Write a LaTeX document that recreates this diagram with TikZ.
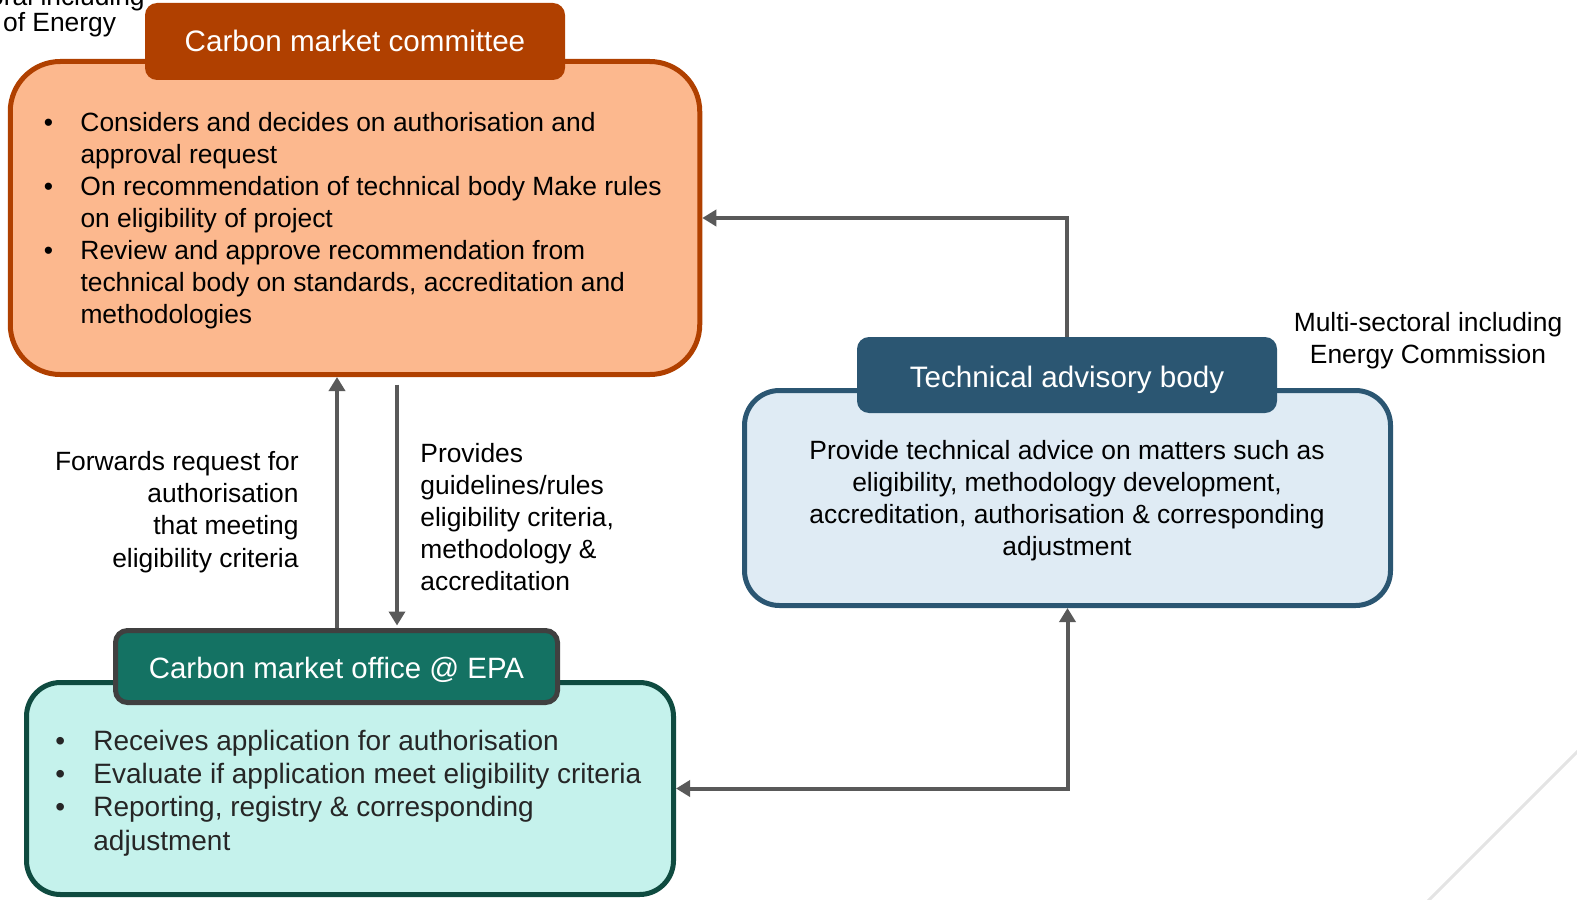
\documentclass[tikz,border=0pt]{standalone}
\usepackage{fontspec}
\setmainfont{Liberation Sans}
\usetikzlibrary{arrows.meta,positioning}
\definecolor{cmcdark}{RGB}{176,64,0}
\definecolor{cmclight}{RGB}{252,184,142}
\definecolor{tabdark}{RGB}{43,86,114}
\definecolor{tablight}{RGB}{223,235,244}
\definecolor{cmodark}{RGB}{20,114,99}
\definecolor{cmoline}{RGB}{15,75,64}
\definecolor{cmolight}{RGB}{197,242,236}
\definecolor{arrgray}{RGB}{89,89,89}
\definecolor{diaggray}{RGB}{228,228,228}
\newcommand{\bul}[1]{\makebox[#1][l]{\textbullet}}
\tikzset{
  mainbox/.style={draw,line width=2.5pt,inner sep=0pt},
  headbox/.style={text=white,inner sep=0pt,rounded corners=6pt,text depth=0pt,font=\fontsize{14.8}{17}\selectfont},
  bodytxt/.style={inner sep=0pt,font=\fontsize{13.2}{16}\selectfont},
  conn/.style={draw=arrgray,line width=2pt},
}
\begin{document}
\begin{tikzpicture}[>={Triangle[length=7pt,width=8pt]},x=0.5pt,y=-0.5pt]
\useasboundingbox (0,0) rectangle (1577,899);
\clip (0,0) rectangle (1577,899);
\draw[diaggray,line width=1.5pt] (1420,909) -- (1587,742);
% committee
\node[mainbox,draw=cmcdark,fill=cmclight,minimum width=344.75pt,minimum height=156.5pt,rounded corners=25pt] (cmc) at (355,218) {};
\node[headbox,fill=cmcdark,minimum width=210pt,minimum height=38.5pt,text height=10.5pt] (cmch) at (355,41.5) {Carbon market committee};
\node[bodytxt,align=left,anchor=base west] (cmcl) at (43.5,323) {\bul{18.3pt}Considers and decides on authorisation and\\
  \hspace*{18.3pt}approval request\\
  \bul{18.3pt}On recommendation of technical body Make rules\\
  \hspace*{18.3pt}on eligibility of project\\
  \bul{18.3pt}Review and approve recommendation from\\
  \hspace*{18.3pt}technical body on standards, accreditation and\\
  \hspace*{18.3pt}methodologies};
% technical advisory body
\node[mainbox,draw=tabdark,fill=tablight,minimum width=323pt,minimum height=107.5pt,rounded corners=17.5pt] (tab) at (1067.5,498) {};
\node[headbox,fill=tabdark,minimum width=210pt,minimum height=38pt,text height=12pt] (tabh) at (1067,375) {Technical advisory body};
\node[bodytxt,align=center,anchor=base] (tabl) at (1067,555) {Provide technical advice on matters such as\\
  eligibility, methodology development,\\
  accreditation, authorisation \& corresponding\\
  adjustment};
% carbon market office
\node[mainbox,draw=cmoline,fill=cmolight,minimum width=323.5pt,minimum height=106pt,rounded corners=17pt] (cmo) at (350,788.5) {};
\node[headbox,draw=black!75,line width=2.5pt,fill=cmodark,minimum width=221pt,minimum height=36pt,text height=11.5pt,font=\fontsize{14.7}{17}\selectfont] (cmoh) at (336.5,666.5) {Carbon market office @ EPA};
\node[bodytxt,align=left,anchor=base west,text=black!85,font=\fontsize{14}{16.6}\selectfont] (cmol) at (55,850) {\bul{19pt}Receives application for authorisation\\
  \bul{19pt}Evaluate if application meet eligibility criteria\\
  \bul{19pt}Reporting, registry \& corresponding\\
  \hspace*{19pt}adjustment};
% side labels
\node[bodytxt,align=right,anchor=base east,font=\fontsize{13.2}{16.15}\selectfont] (fwd) at (299,567) {Forwards request for\\authorisation\\that meeting\\eligibility criteria};
\node[bodytxt,align=left,anchor=base west] (prov) at (420,590) {Provides\\guidelines/rules\\eligibility criteria,\\methodology \&\\accreditation};
\node[bodytxt,align=center,anchor=base] (ecom) at (1428,363) {Multi-sectoral including\\Energy Commission};
\node[bodytxt,align=center,anchor=base,font=\fontsize{13.2}{13}\selectfont] (moe) at (10.5,32) {Multi-sectoral including\\Ministry of Energy};
% connectors
\draw[conn,->] (tabh.north) |- (cmc.east);
\draw[conn,->] ([xshift=0.25pt]cmoh.north) -- ([xshift=0.25pt]cmoh.north |- cmc.south);
\draw[conn,->,shorten <=3.75pt,shorten >=1.25pt] ([xshift=30.25pt]cmoh.north |- cmc.south) -- ([xshift=30.25pt]cmoh.north);
\draw[conn,<->] (cmo.east) -| (tab.south);
\end{tikzpicture}
\end{document}
